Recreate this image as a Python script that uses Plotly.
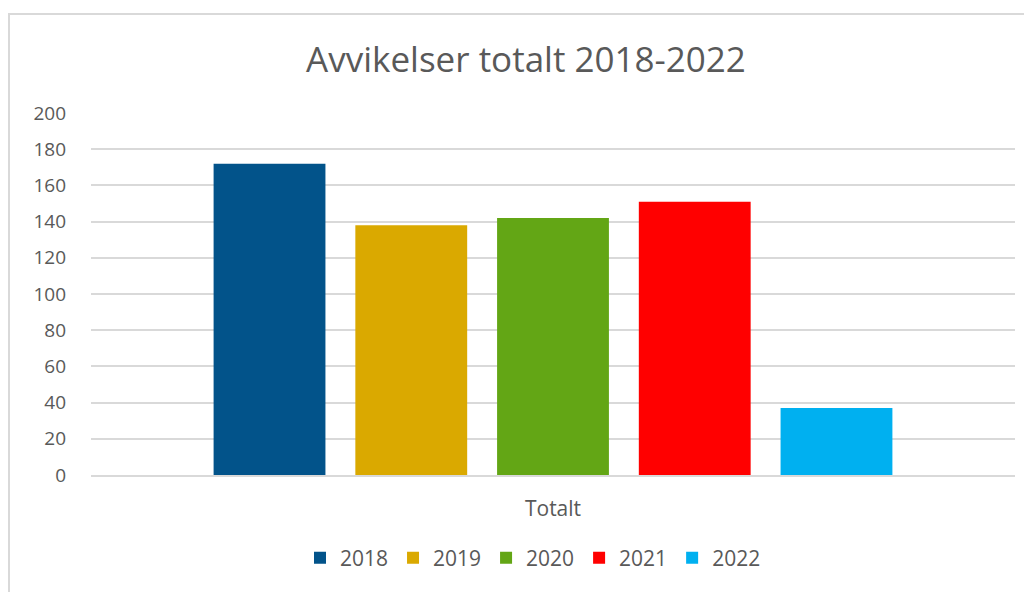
import plotly.graph_objects as go

# data
years = ["2018", "2019", "2020", "2021", "2022"]
values = [172, 138, 142, 151, 37]
colors = ["#02538A", "#DAA900", "#63A615", "#FF0000", "#00B0F0"]
category = ["Totalt"]
y_ticks = [0, 20, 40, 60, 80, 100, 120, 140, 160, 180, 200]

FONT = "Open Sans"
GREY = "#595959"
OFF = 8  # page body margin that write_html leaves around the figure

fig = go.Figure()
for year, val, col in zip(years, values, colors):
    fig.add_trace(go.Bar(x=category, y=[val], name=year, marker_color=col,
                         marker_line_width=0))

fig.update_layout(
    width=1032, height=592,
    margin=dict(l=91 - OFF, r=25, t=113 - OFF, b=125),
    paper_bgcolor="white", plot_bgcolor="white",
    font=dict(family=FONT, color=GREY),
    barmode="group", bargap=0.233, bargroupgap=0.211,
    title=dict(text="Avvikelser totalt 2018-2022", x=(526 - OFF) / 1032, xanchor="center",
               y=1 - (60 - OFF) / 592, yanchor="middle",
               font=dict(size=35, color=GREY, family=FONT)),
    legend=dict(orientation="h", x=(533 - 91) / 924, xanchor="center",
                y=(475 - 558) / 362, yanchor="middle",
                font=dict(size=21, color=GREY), itemwidth=30),
    showlegend=True,
)
fig.update_yaxes(range=[0, 200], tickvals=y_ticks, showgrid=True, gridcolor="#d9d9d9",
                 gridwidth=2, zeroline=False, showline=False,
                 tickfont=dict(size=19, color=GREY), ticks="", ticklabelstandoff=24)
fig.update_xaxes(showline=True, linecolor="#d9d9d9", linewidth=2,
                 tickfont=dict(size=21, color=GREY), ticks="", ticklabelstandoff=14)

# chart area border (right and bottom edges lie outside the frame)
fig.add_shape(type="rect", xref="paper", yref="paper",
              x0=(9 - 91) / 924, x1=(1045 - 91) / 924,
              y0=(475 - 610) / 362, y1=(475 - 14) / 362,
              line=dict(color="#d9d9d9", width=2), layer="below")

fig.write_html("out.html")
